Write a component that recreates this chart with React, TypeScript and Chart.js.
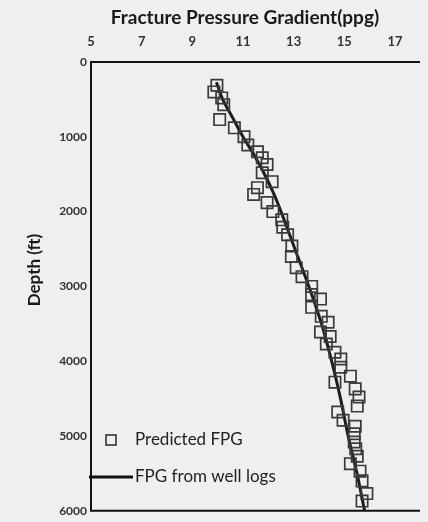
import React, { useEffect, useRef } from "react";
import { Chart, registerables } from "chart.js";

Chart.register(...registerables);

// Predicted FPG (ppg) and depth (ft)
const predictedFpg = [
  9.97, 9.85, 10.16, 10.24, 10.08, 10.66, 11.04, 11.19, 11.57, 11.76,
  11.95, 11.76, 12.15, 11.57, 11.42, 11.95, 12.18, 12.53, 12.57, 12.76,
  12.93, 12.91, 13.1, 13.33, 13.71, 13.71, 14.06, 13.71, 14.09, 14.36,
  14.06, 14.44, 14.29, 14.63, 14.86, 14.86, 15.24, 14.63, 15.43, 15.58,
  15.51, 14.74, 14.95, 15.43, 15.39, 15.39, 15.45, 15.51, 15.24, 15.62,
  15.7, 15.89, 15.7,
];
const predictedDepth = [
  310, 400, 480, 570, 770, 880, 1000, 1110, 1200, 1280,
  1370, 1480, 1600, 1680, 1770, 1880, 2000, 2110, 2210, 2310,
  2460, 2600, 2750, 2870, 3000, 3110, 3170, 3280, 3400, 3480,
  3610, 3670, 3770, 3880, 3970, 4080, 4200, 4280, 4370, 4480,
  4600, 4680, 4790, 4870, 4970, 5080, 5170, 5270, 5370, 5470,
  5600, 5770, 5870,
];

// FPG from well logs
const logFpg = [9.95, 10.2, 10.6, 11.0, 11.45, 11.85, 12.2, 12.5, 13.05, 13.6, 14.1, 14.5, 14.85, 15.15, 15.5, 15.8];
const logDepth = [270, 500, 750, 1000, 1250, 1500, 1750, 2000, 2500, 3000, 3500, 4000, 4500, 5000, 5500, 6000];

const xTicks = [5, 7, 9, 11, 13, 15, 17];
const yTicks = [0, 1000, 2000, 3000, 4000, 5000, 6000];

const xTitle = "Fracture Pressure Gradient(ppg)";
const yTitle = "Depth (ft)";
const legendPredicted = "Predicted FPG";
const legendLogs = "FPG from well logs";

const FONT = "Lato, 'Open Sans', sans-serif";
const BG = "#eeeff0";

export default function App() {
  const ref = useRef<HTMLCanvasElement | null>(null);

  useEffect(() => {
    document.body.style.background = BG;
    const canvas = ref.current;
    if (!canvas) return;

    const framePlugin = {
      id: "frameAndText",
      afterDraw(chart: any) {
        const ctx = chart.ctx;
        const a = chart.chartArea;
        ctx.save();
        // frame
        ctx.strokeStyle = "#111";
        ctx.lineWidth = 2;
        ctx.beginPath();
        ctx.moveTo(a.right + 2, a.top);
        ctx.lineTo(a.left, a.top);
        ctx.lineTo(a.left, a.bottom);
        ctx.lineTo(a.right + 2, a.bottom);
        ctx.stroke();

        // x title
        ctx.fillStyle = "#1a1a1a";
        ctx.font = `bold 19px ${FONT}`;
        ctx.textAlign = "center";
        ctx.textBaseline = "middle";
        ctx.fillText(xTitle, 237, 10);

        // y title
        ctx.save();
        ctx.font = `bold 17px ${FONT}`;
        ctx.translate(27, 262);
        ctx.rotate(-Math.PI / 2);
        ctx.fillText(yTitle, 0, 0);
        ctx.restore();

        // legend
        ctx.font = `17px ${FONT}`;
        ctx.textAlign = "left";
        ctx.fillStyle = "#222";
        ctx.strokeStyle = "#333";
        ctx.lineWidth = 1.6;
        ctx.strokeRect(a.left + 15, 427, 10, 10);
        ctx.fillText(legendPredicted, a.left + 44, 432);
        ctx.strokeStyle = "#111";
        ctx.lineWidth = 3;
        ctx.beginPath();
        ctx.moveTo(a.left - 2, 469);
        ctx.lineTo(a.left + 42, 469);
        ctx.stroke();
        ctx.fillText(legendLogs, a.left + 44, 469);
        ctx.restore();
      },
    };

    const chart = new Chart(canvas, {
      type: "scatter",
      data: {
        datasets: [
          {
            label: legendPredicted,
            data: predictedFpg.map((x, i) => ({ x, y: predictedDepth[i] })),
            pointStyle: "rect",
            pointRadius: 8,
            pointBorderWidth: 1.7,
            pointBorderColor: "#3a3a3a",
            pointBackgroundColor: "rgba(0,0,0,0)",
            showLine: false,
          },
          {
            label: legendLogs,
            data: logFpg.map((x, i) => ({ x, y: logDepth[i] })),
            showLine: true,
            borderColor: "#1c1c1c",
            borderWidth: 3,
            pointRadius: 0,
            tension: 0.3,
          },
        ],
      },
      options: {
        animation: false,
        responsive: false,
        maintainAspectRatio: false,
        layout: { padding: { top: 0, right: 0, bottom: 8, left: 0 } },
        plugins: {
          legend: { display: false },
          tooltip: { enabled: false },
        },
        scales: {
          x: {
            type: "linear",
            position: "top",
            min: 5,
            max: 17.92,
            afterBuildTicks: (s: any) => {
              s.ticks = xTicks.map((v) => ({ value: v }));
            },
            afterFit: (s: any) => {
              s.height = 54;
            },
            grid: { display: false, drawTicks: false },
            border: { display: false },
            ticks: {
              padding: 12,
              color: "#333",
              font: { family: FONT, size: 13, weight: "bold" },
              maxRotation: 0,
              autoSkip: false,
              callback: (v: any) => String(v),
            },
          },
          y: {
            type: "linear",
            reverse: true,
            min: 0,
            max: 6000,
            afterBuildTicks: (s: any) => {
              s.ticks = yTicks.map((v) => ({ value: v }));
            },
            afterFit: (s: any) => {
              s.width = 83;
            },
            grid: { display: false, drawTicks: false },
            border: { display: false },
            ticks: {
              padding: 4,
              color: "#333",
              font: { family: FONT, size: 12, weight: "bold" },
              autoSkip: false,
              callback: (v: any) => String(v),
            },
          },
        },
      },
      plugins: [framePlugin],
    });

    return () => chart.destroy();
  }, []);

  return (
    <div style={{ width: 420, height: 514 }}>
      <canvas ref={ref} width={420} height={514} style={{ display: "block" }} />
    </div>
  );
}
